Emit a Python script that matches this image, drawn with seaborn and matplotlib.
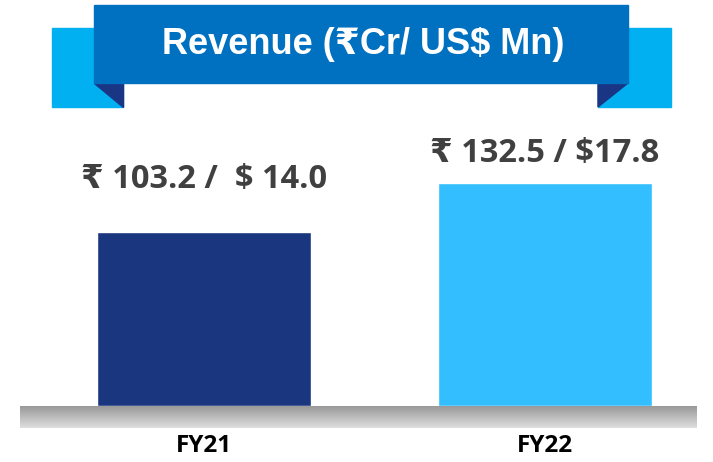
import numpy as np
import pandas as pd
import seaborn as sns
import matplotlib.pyplot as plt
from matplotlib.patches import Rectangle, Polygon

# data
years = ['FY21', 'FY22']
revenue_inr = [103.2, 132.5]
revenue_usd = [14.0, 17.8]
value_labels = ['₹ 103.2 /  $ 14.0', '₹ 132.5 / $17.8']
bar_colors = ['#1A367F', '#33BFFF']

df = pd.DataFrame({'year': years, 'inr': revenue_inr})

sns.set_theme(style='white')
plt.rcParams['font.family'] = ['Open Sans', 'DejaVu Sans']

W, H = 713, 462
fig = plt.figure(figsize=(W / 100, H / 100), dpi=100)

# bar axes, placed in pixel terms
left, right, bottom, top = 20, 697, 406, 110
ax = fig.add_axes([left / W, (H - bottom) / H, (right - left) / W, (bottom - top) / H])
sns.barplot(data=df, x='year', y='inr', hue='year', palette=bar_colors,
            width=0.63, legend=False, ax=ax, saturation=1)
ax.set_xlim(-0.54, 1.446)
ax.set_ylim(0, (bottom - top) / 1.683)
ax.axis('off')

# labels above bars (offset of baseline above the bar top, in points)
offsets = [32, 15]
for i, (lab, v) in enumerate(zip(value_labels, revenue_inr)):
    ax.annotate(lab, (i, v), xytext=(0, offsets[i]), textcoords='offset points',
                ha='center', va='baseline', fontsize=23.5, fontweight='bold',
                color='#404040', family=['Open Sans', 'DejaVu Sans'])

# decoration overlay in pixel coords
ov = fig.add_axes([0, 0, 1, 1], facecolor='none')
ov.set_xlim(0, W)
ov.set_ylim(H, 0)
ov.axis('off')

# grey base with gradient
grad = np.linspace(0.6, 0.87, 50).reshape(-1, 1)
ov.imshow(grad, cmap='gray', vmin=0, vmax=1, extent=(20, 697, 428, 406),
          aspect='auto', zorder=2)

# ribbon banner
light, main, dark = '#00B0F0', '#0070C0', '#1B3585'
ov.add_patch(Rectangle((52, 28), 71, 79, color=light, zorder=3))
ov.add_patch(Rectangle((598, 28), 73, 79, color=light, zorder=3))
ov.add_patch(Polygon([(94, 83), (123, 83), (123, 107)], color=dark, zorder=4))
ov.add_patch(Polygon([(598, 83), (628, 83), (598, 107)], color=dark, zorder=4))
ov.add_patch(Rectangle((94, 5), 534, 78, color=main, zorder=5))
ov.text(363, 45, 'Revenue (₹Cr/ US$ Mn)', ha='center', va='center', color='white',
        fontsize=26, fontweight='bold', zorder=6,
        family=['Liberation Sans', 'DejaVu Sans'])

# category labels
for i, y in enumerate(years):
    xp = left + (i + 0.54) / 1.986 * (right - left)
    ov.text(xp, 446, y, ha='center', va='center', fontsize=17.5,
            fontweight='bold', color='black', zorder=6)

fig.savefig('out.png', dpi=100)
